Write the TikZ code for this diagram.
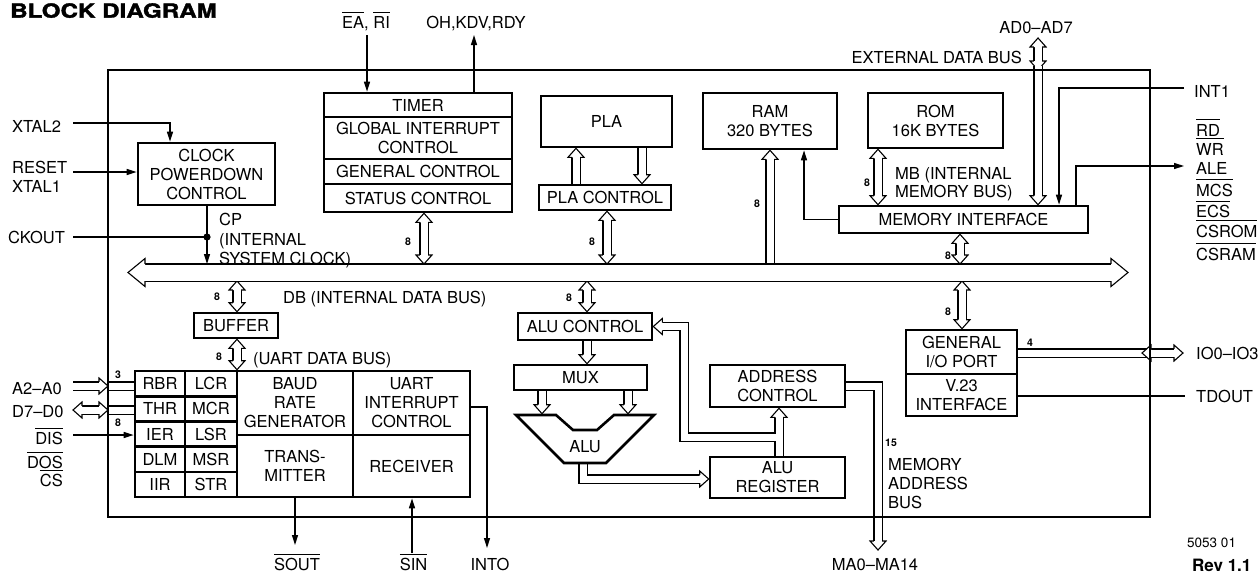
\documentclass[tikz,border=0pt]{standalone}
\usepackage{fontspec}
\setmainfont{TeX Gyre Heros}
\newfontfamily\heavyfont{TeX Gyre Heros}[BoldFeatures={FakeBold=1.6}]
\usetikzlibrary{arrows.meta,calc}
\pgfdeclarelayer{bg}
\pgfsetlayers{bg,main}
\newcommand{\lbl}{\fontsize{16.5}{19}\selectfont}
\newcommand{\numf}{\fontsize{10.5}{12}\selectfont\bfseries}
\newcommand{\ol}[2][3]{\leavevmode\vbox{\hrule height 1.1pt\kern #1pt\hbox{#2}}}
\newcommand{\ahd}[5]{%
  \begin{scope}[shift={(#1)},rotate=#2]
    \fill[white] (-#3pt,-#5pt) -- (-#3pt,-#4pt) -- (0pt,0pt) -- (-#3pt,#4pt) -- (-#3pt,#5pt) -- cycle;
    \draw[line width=1.1pt,line join=miter] (-#3pt,-#5pt) -- (-#3pt,-#4pt) -- (0pt,0pt) -- (-#3pt,#4pt) -- (-#3pt,#5pt);
  \end{scope}}
\newcommand{\hd}[2]{\ahd{#1}{#2}{9}{8}{4.05}}
\newcommand{\busDD}[2]{\draw[busd,shorten <=9pt,shorten >=9pt] (#1) -- (#2); \hd{#1}{90}\hd{#2}{-90}}
\newcommand{\busDn}[2]{\draw[busd,shorten >=9pt] (#1) -- (#2); \hd{#2}{-90}}
\newcommand{\busUp}[2]{\draw[busd,shorten >=9pt] (#1) -- (#2); \hd{#2}{90}}
\begin{document}
\begin{tikzpicture}[x=1pt,y=-1pt,
  every node/.style={inner sep=0pt,font=\lbl},
  blk/.style={draw,line width=2.6pt,align=center},
  thinl/.style={line width=1.4pt},
  arrl/.style={line width=1.4pt,-{Triangle[length=10pt,width=6pt]}},
  busd/.style={double=white,double distance=7pt,line width=1.1pt,line join=miter},
  bigbusd/.style={double=white,double distance=16pt,line width=1.1pt},
  numl/.style={font=\numf}]
\useasboundingbox (0,0) rectangle (1260,573);

% chip frame
\node[draw,line width=2.8pt,minimum width=1042pt,minimum height=447pt] (chip) at (629,293.5) {};

% title
\node[anchor=north west] (title) at (10,3) {\scalebox{1.24}[1]{\fontsize{19.5}{20}\selectfont\heavyfont\bfseries BLOCK DIAGRAM}};

% blocks
\node[blk,minimum width=137pt,minimum height=62pt] (clk) at (206.5,174) {CLOCK\\POWERDOWN\\CONTROL};
\node[blk,minimum width=188pt,minimum height=24pt] (timer) at (418,105) {TIMER};
\node[blk,minimum width=188pt,minimum height=42pt] (gic) at (418,138) {GLOBAL INTERRUPT\\CONTROL};
\node[blk,minimum width=188pt,minimum height=25pt] (gen) at (418,171.5) {GENERAL CONTROL};
\node[blk,minimum width=188pt,minimum height=28pt] (stat) at (418,198) {STATUS CONTROL};
\node[blk,minimum width=131pt,minimum height=51pt] (pla) at (606.5,121.5) {PLA};
\node[blk,minimum width=132pt,minimum height=25pt] (plac) at (605,197.5) {PLA CONTROL};
\node[blk,minimum width=134pt,minimum height=56pt] (ram) at (770,121) {RAM\\320 BYTES};
\node[blk,minimum width=135pt,minimum height=55pt] (rom) at (935.5,120.5) {ROM\\16K BYTES};
\node[blk,minimum width=249pt,minimum height=27pt] (memif) at (963.5,219.5) {MEMORY INTERFACE};
\node[blk,minimum width=84pt,minimum height=25pt] (buffer) at (236,325.5) {BUFFER};
\node[blk,minimum width=134pt,minimum height=27pt] (alucon) at (585,326.5) {ALU CONTROL};
\node[blk,minimum width=133pt,minimum height=25pt] (mux) at (580.5,377.5) {MUX};
\node[blk,minimum width=135pt,minimum height=42pt] (addr) at (777.5,386) {ADDRESS\\CONTROL};
\node[blk,minimum width=135pt,minimum height=41pt] (alureg) at (777.5,477.5) {ALU\\REGISTER};
\node[blk,minimum width=111pt,minimum height=44pt] (gio) at (961.5,352) {GENERAL\\I/O PORT};
\node[blk,minimum width=111pt,minimum height=42pt] (v23) at (961.5,395) {V.23\\INTERFACE};

% UART block
\node[blk,minimum width=50pt,minimum height=25.2pt] (rbr) at (160,383.6) {RBR};
\node[blk,minimum width=52pt,minimum height=25.2pt] (lcr) at (211,383.6) {LCR};
\node[blk,minimum width=50pt,minimum height=25.2pt] (thr) at (160,408.8) {THR};
\node[blk,minimum width=52pt,minimum height=25.2pt] (mcr) at (211,408.8) {MCR};
\node[blk,minimum width=50pt,minimum height=25.2pt] (ier) at (160,434) {IER};
\node[blk,minimum width=52pt,minimum height=25.2pt] (lsr) at (211,434) {LSR};
\node[blk,minimum width=50pt,minimum height=25.2pt] (dlm) at (160,459.2) {DLM};
\node[blk,minimum width=52pt,minimum height=25.2pt] (msr) at (211,459.2) {MSR};
\node[blk,minimum width=50pt,minimum height=25.2pt] (iir) at (160,484.4) {IIR};
\node[blk,minimum width=52pt,minimum height=25.2pt] (str) at (211,484.4) {STR};
\node[blk,minimum width=116pt,minimum height=64pt] (baud) at (295,403) {BAUD\\RATE\\GENERATOR};
\node[blk,minimum width=117pt,minimum height=64pt] (uint) at (411.5,403) {UART\\INTERRUPT\\CONTROL};
\node[blk,minimum width=116pt,minimum height=62pt] (trans) at (295,466) {TRANS-\\MITTER};
\node[blk,minimum width=117pt,minimum height=62pt] (recv) at (411.5,466) {RECEIVER};

% ALU
\draw[line width=2.6pt,line join=miter] (516,415) -- (556,415) -- (573,430) -- (597,430) -- (614,415) -- (654,415) -- (606,463) -- (564,463) -- cycle;
\node (alu) at (585,447) {ALU};

% internal data bus
\coordinate (busL) at (128,272.5);
\coordinate (busR) at (1128,272.5);
\coordinate (bt) at (0,264);
\coordinate (bb) at (0,281);
\draw[bigbusd,shorten <=17pt,shorten >=17pt] (busL) -- (busR);
\ahd{busL}{180}{17}{14}{8.55}
\ahd{busR}{0}{17}{14}{8.55}

\begin{pgfonlayer}{bg}
% buses
\coordinate (s1) at ($(stat.south)+(6,0)$);
\busDD{s1}{s1 |- bt}
\coordinate (pc1) at ($(plac.south)+(2,0)$);
\busDD{pc1}{pc1 |- bt}
\coordinate (r1) at (ram.south);
\busUp{r1 |- bt}{r1}
\coordinate (m1) at ($(rom.south)+(-57.5,0)$);
\busDD{m1}{m1 |- memif.north}
\coordinate (ad) at (1038,38);
\coordinate (adf) at (1038,70);
\busDD{ad}{adf}
\coordinate (adg) at (1038,66);
\busDn{adg}{adg |- memif.north}
\coordinate (mb) at ($(memif.south)+(-3.5,0)$);
\busDD{mb}{mb |- bt}
\coordinate (gb) at ($(gio.north)+(0.5,0)$);
\busDD{gb |- bb}{gb}
\coordinate (bf1) at ($(buffer.north)+(1,0)$);
\busDD{bf1 |- bb}{bf1}
\coordinate (bf2) at ($(buffer.south)+(1,0)$);
\busDD{bf2}{bf2 |- lcr.north}
\coordinate (ac1) at ($(alucon.north)+(2,0)$);
\busDD{ac1 |- bb}{ac1}
\coordinate (ac2) at ($(alucon.south)+(2,0)$);
\busDn{ac2}{ac2 |- mux.north}
\coordinate (alutop) at (0,413.7);
\coordinate (mx1) at ($(mux.south)+(-38.5,0)$);
\coordinate (mx2) at ($(mux.south)+(47.5,0)$);
\busDn{mx1}{mx1 |- alutop}
\busDn{mx2}{mx2 |- alutop}
\coordinate (p1) at ($(pla.south)+(35.5,0)$);
\busDn{p1}{p1 |- plac.north}
\coordinate (p2) at ($(plac.north)+(-29,0)$);
\busUp{p2}{p2 |- pla.south}
\coordinate (ar1) at ($(alureg.north)+(1.5,0)$);
\busUp{ar1}{ar1 |- addr.south}
\coordinate (fb) at (775.5,437);
\coordinate (fbc) at (684,437);
\draw[busd,shorten >=9pt] (fb) -- (fbc) |- (alucon.east);
\hd{alucon.east}{180}
\coordinate (ao) at (583,463);
\coordinate (arin) at ($(alureg.west)+(0,1.5)$);
\draw[busd,shorten >=9pt] (ao) |- (arin);
\hd{arin}{0}
\coordinate (ma) at (878,550);
\draw[busd,shorten >=9pt] (addr.east) -| (ma);
\hd{ma}{-90}
\coordinate (gioo) at ($(gio.east)+(0,1)$);
\coordinate (io1) at (1142,353);
\coordinate (io2) at (1183,353);
\draw[busd] (gioo) -- ($(io1)+(4.5,0)$);
\draw[busd,shorten <=9pt,shorten >=9pt] (io1) -- (io2);
\hd{io1}{180}\hd{io2}{0}
\coordinate (a2) at (73,386);
\coordinate (a2f) at (108,386);
\draw[busd,shorten >=9pt] (a2) -- (a2f);
\hd{a2f}{0}
\draw[busd] (a2f) -- (a2f -| rbr.west);
\coordinate (d7) at (73,410);
\coordinate (d7f) at (108,410);
\draw[busd,shorten <=9pt,shorten >=9pt] (d7) -- (d7f);
\hd{d7}{180}\hd{d7f}{0}
\draw[busd] (d7f) -- (d7f -| thr.west);

% single lines
\coordinate (xt2) at (73,123);
\draw[arrl] (xt2) -| ($(clk.north)+(-36.5,0)$);
\coordinate (rst) at (73,172);
\draw[arrl] (rst) -- (rst -| clk.west);
\coordinate (ck) at (73,237);
\coordinate (cpd) at (207,237);
\coordinate (cpj) at ($(clk.south)+(0.5,0)$);
\draw[thinl] (ck) -- (cpd);
\fill (cpd) circle (3.6pt);
\draw[arrl] (cpj) -- (cpj |- bt);
\coordinate (eat) at (367,35);
\draw[arrl] (eat) -- (eat |- timer.north);
\coordinate (oht) at (474,35);
\draw[arrl] (oht |- timer.north) -- (oht);
\draw[arrl] (memif.west) -| ($(ram.south)+(34,0)$);
\coordinate (int1) at (1184,88);
\draw[arrl] (int1) -| ($(memif.north)+(95.5,0)$);
\coordinate (ale) at (1184,166);
\draw[arrl] ($(memif.north)+(112.5,0)$) |- (ale);
\coordinate (tdo) at (1185,396);
\draw[thinl] ($(v23.east)+(0,1)$) -- (tdo);
\coordinate (sout) at (295,545);
\draw[arrl] (trans.south) -- (sout);
\coordinate (sin) at (412,553);
\draw[arrl] (sin) -- (sin |- recv.south);
\coordinate (into) at (487,548);
\draw[arrl] ($(uint.east)+(0,4)$) -| (into);
\coordinate (dis) at (73,435);
\draw[arrl] (dis) -- (dis -| ier.west);
\end{pgfonlayer}

% outside labels
\node[anchor=base west] (lxt2) at (12,132) {XTAL2};
\node[anchor=base west] (lrst) at (12,173) {RESET};
\node[anchor=base west] (lxt1) at (12,192) {XTAL1};
\node[anchor=base west] (lck) at (8,243) {CKOUT};
\node[anchor=base west] (la2) at (12,394) {A2--A0};
\node[anchor=base west] (ld7) at (12,417) {D7--D0};
\node[anchor=base east] (ldis) at (63,444) {\ol{DIS}};
\node[anchor=base east] (ldos) at (63,468) {\ol{DOS}};
\node[anchor=base east] (lcs) at (63,486) {\ol{CS}};
\node[anchor=base west] (lcp1) at (219,225) {CP};
\node[anchor=base west] (lcp2) at (219,245) {(INTERNAL};
\node[anchor=base west] (lcp3) at (219,264) {SYSTEM CLOCK)};
\node[anchor=base] (lea) at (366,28) {\ol{EA}, \ol{RI}};
\node[anchor=base] (loh) at (476,28) {OH,KDV,RDY};
\node[anchor=base] (lad) at (1036,33) {AD0--AD7};
\node[anchor=base east] (lext) at (1022,63) {EXTERNAL DATA BUS};
\node[anchor=base west] (lmb1) at (895,179) {MB (INTERNAL};
\node[anchor=base west] (lmb2) at (895,197) {MEMORY BUS)};
\node[anchor=base west] (lint) at (1194,97) {INT1};
\node[anchor=base west] (lrd) at (1196,136) {\ol[3.5]{RD}};
\node[anchor=base west] (lwr) at (1196,155) {\ol[3.5]{WR}};
\node[anchor=base west] (lale) at (1196,174) {ALE};
\node[anchor=base west] (lmcs) at (1196,196) {\ol[3.5]{MCS}};
\node[anchor=base west] (lecs) at (1196,217.5) {\ol[3.5]{ECS}};
\node[anchor=base west] (lcsrom) at (1196,237) {\ol[3.5]{CSROM}};
\node[anchor=base west] (lcsram) at (1196,260) {\ol[3.5]{CSRAM}};
\node[anchor=base west] (lio) at (1196,359) {IO0--IO3};
\node[anchor=base west] (ltd) at (1196,402) {TDOUT};
\node[anchor=base west,font=\fontsize{13.5}{15}\selectfont] (lnum) at (1187,547) {5053 01};
\node[anchor=base west,font=\fontsize{17}{18}\selectfont\bfseries] (lrev) at (1192,571) {Rev 1.1};
\node[anchor=base west] (lmem) at (888,470) {MEMORY};
\node[anchor=base west] (ladr) at (888,489) {ADDRESS};
\node[anchor=base west] (lbus) at (888,508) {BUS};
\node[anchor=base] (lma) at (875,570) {MA0--MA14};
\node[anchor=base] (lsout) at (297,570) {\ol{SOUT}};
\node[anchor=base] (lsin) at (413.5,570) {\ol{SIN}};
\node[anchor=base] (linto) at (490,570) {INTO};
\node[anchor=base west] (ldb) at (283,303) {DB (INTERNAL DATA BUS)};
\node[anchor=base west] (luart) at (253,364) {(UART DATA BUS)};

% width numbers
\node[numl] (n1) at (408,242) {8};
\node[numl] (n2) at (592,242) {8};
\node[numl] (n3) at (569,298) {8};
\node[numl] (n4) at (217,297) {8};
\node[numl] (n5) at (219,357) {8};
\node[numl] (n6) at (757,204) {8};
\node[numl] (n7) at (867,183) {8};
\node[numl] (n8) at (948,256) {8};
\node[numl] (n9) at (948,312) {8};
\node[numl] (n10) at (118,375) {3};
\node[numl] (n11) at (118,423) {8};
\node[numl] (n12) at (1030,343) {4};
\node[numl] (n13) at (891,443) {15};
\end{tikzpicture}
\end{document}
